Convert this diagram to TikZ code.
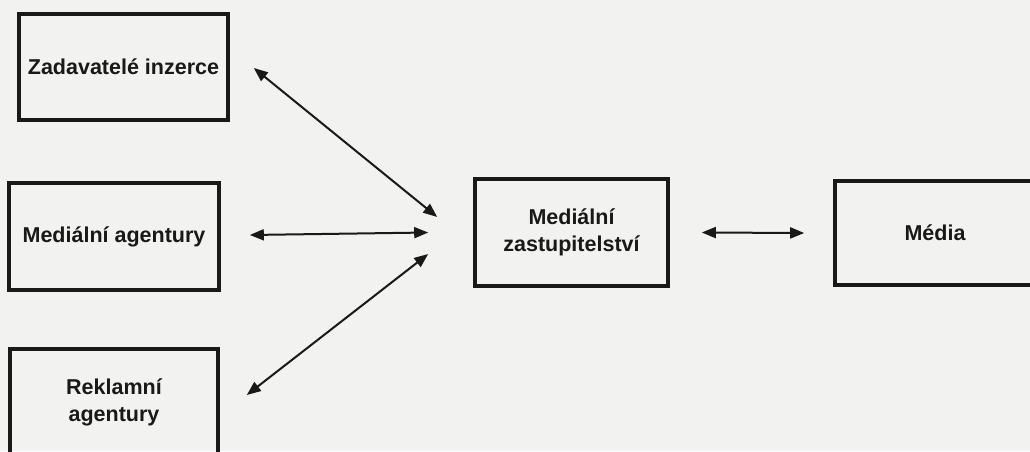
\documentclass[tikz,border=0pt]{standalone}
\usepackage{fontspec}
\setmainfont{Liberation Sans}
\usetikzlibrary{arrows.meta}
\definecolor{paper}{RGB}{242,242,241}
\definecolor{ink}{RGB}{25,25,25}
\begin{document}
\begin{tikzpicture}[x=1pt,y=1pt,
  box/.style={draw=ink,line width=3.6pt,fill=none,text=ink,align=center,
    inner sep=0pt,font=\bfseries\fontsize{21.5}{27}\selectfont},
  conn/.style={draw=ink,line width=2pt,{Triangle[length=14pt,width=11pt]}-{Triangle[length=14pt,width=11pt]}}]
  \useasboundingbox (0,0) rectangle (1030,451);
  \clip (0,0) rectangle (1030,451);
  \fill[paper] (0,0) rectangle (1030,451);

  % left column: the three kinds of clients
  \node[box,minimum width=209pt,minimum height=106pt] (zad) at (123.5,384) {Zadavatelé inzerce};
  \node[box,minimum width=210pt,minimum height=107pt] (ma)  at (114,214.5) {Mediální agentury};
  \node[box,minimum width=208pt,minimum height=106pt] (rek) at (114,49)    {Reklamní\\agentury};

  % centre and right
  \node[box,minimum width=193pt,minimum height=107pt] (mz)  at (571.5,218.5) {Mediální\\zastupitelství};
  \node[box,minimum width=200pt,minimum height=104pt] (med) at (935,218)    {Média};

  % two-way links
  \draw[conn] ([xshift=24pt,yshift=-1pt]zad.east) -- ([xshift=-36pt,yshift=15.5pt]mz.west);
  \draw[conn] ([xshift=29pt,yshift=1.5pt]ma.east)  -- ([xshift=-45pt]mz.west);
  \draw[conn] ([xshift=27pt,yshift=7pt]rek.east)   -- ([xshift=-45pt,yshift=-21.5pt]mz.west);
  \draw[conn] ([xshift=32pt]mz.east) -- ([xshift=-29pt]med.west);
\end{tikzpicture}
\end{document}
